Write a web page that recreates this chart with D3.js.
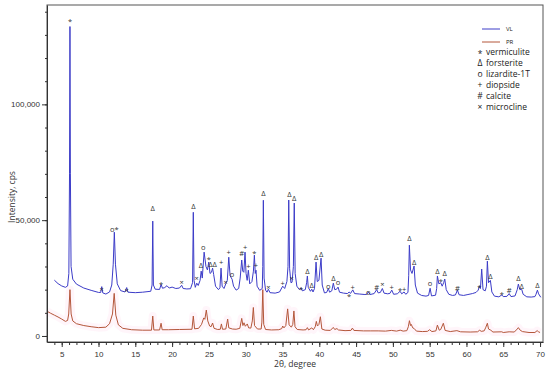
<!DOCTYPE html>
<html>
<head>
<meta charset="utf-8">
<script src="https://cdn.jsdelivr.net/npm/d3@7"></script>
<style>
    body { margin: 0; background: #fff; }
    svg { display: block; font-family: "Open Sans", "DejaVu Sans", sans-serif; }
    .axis path, .axis line { stroke: #333; }
    .axis text { fill: #333; font-size: 8px; }
    .peak { fill: #333; font-size: 7.5px; }
    .legend text { fill: #222; font-size: 8.5px; }
</style>
</head>
<body>
<div class="xrd"></div>
<script>
//SERIES (2theta, counts)
var vlScan = [
    [4.0, 24100], [4.5, 22600], [5.0, 21600], [5.5, 21000], [5.8, 21600], [5.97, 27000], [6.06, 70000],
    [6.12, 133600], [6.18, 70000], [6.27, 30000], [6.5, 24500], [7.0, 22400], [8.0, 20700], [9.0, 19700],
    [10.0, 18800], [10.3, 18800], [10.44, 21300], [10.58, 18600], [11.0, 18100], [11.5, 19000], [11.8, 22000],
    [12.0, 31000], [12.15, 44800], [12.3, 31000], [12.55, 22500], [13.0, 19600], [13.6, 19000], [13.83, 20900],
    [14.0, 18900], [15.0, 18700], [16.0, 18900], [17.1, 19300], [17.28, 22000], [17.37, 49600], [17.46, 22000],
    [17.7, 20200], [18.3, 20100], [18.5, 22200], [18.7, 20600], [19.0, 20900], [19.3, 21700], [19.6, 20700],
    [20.0, 21100], [20.5, 20500], [21.0, 20700], [21.3, 21900], [21.5, 20500], [22.0, 20300], [22.5, 20400],
    [22.78, 23000], [22.88, 53400], [22.98, 24000], [23.15, 21000], [23.35, 22800], [23.55, 21800], [23.8, 24000],
    [23.95, 28000], [24.1, 25000], [24.35, 36200], [24.6, 30000], [24.8, 28500], [24.98, 31900], [25.15, 27000],
    [25.35, 27500], [25.5, 29300], [25.65, 26500], [25.9, 21500], [26.3, 20000], [26.5, 20800], [26.65, 29300],
    [26.8, 21500], [27.05, 20500], [27.29, 22500], [27.5, 24000], [27.7, 34000], [27.88, 26000], [28.15, 24500],
    [28.35, 21500], [28.7, 19800], [29.05, 20500], [29.25, 25000], [29.46, 32800], [29.6, 28000], [29.75, 27500],
    [29.91, 36200], [30.05, 27000], [30.2, 24000], [30.36, 28400], [30.55, 22500], [30.85, 23500], [31.05, 28000],
    [31.18, 34900], [31.3, 27000], [31.4, 28400], [31.55, 21500], [31.9, 19700], [32.25, 20500], [32.32, 30000],
    [32.4, 58600], [32.5, 25000], [32.7, 19800], [32.9, 18900], [33.08, 20200], [33.3, 18700], [34.0, 18500],
    [34.6, 19000], [35.03, 21500], [35.3, 20500], [35.6, 23500], [35.75, 30000], [35.85, 58700], [35.97, 29000],
    [36.15, 23000], [36.3, 23200], [36.48, 30000], [36.6, 57400], [36.72, 27000], [36.95, 21500], [37.3, 20000],
    [37.52, 20800], [37.7, 19500], [38.1, 20000], [38.28, 23000], [38.38, 25900], [38.5, 21000], [38.8, 19300],
    [38.98, 20200], [39.15, 19000], [39.35, 20500], [39.56, 31900], [39.72, 23500], [39.95, 24000], [40.24, 33600],
    [40.4, 22000], [40.7, 18600], [41.0, 18800], [41.23, 20500], [41.4, 18900], [41.7, 19500], [41.91, 22800],
    [42.1, 20000], [42.35, 20200], [42.55, 21100], [42.75, 18900], [43.3, 18500], [43.85, 18300], [44.05, 19000],
    [44.25, 18400], [44.55, 19900], [44.8, 18300], [45.5, 18100], [46.2, 17900], [46.45, 18000], [46.67, 19000],
    [46.9, 17900], [47.45, 18300], [47.8, 20000], [48.0, 18600], [48.3, 18800], [48.57, 20500], [48.8, 18500],
    [49.3, 18200], [49.6, 18400], [49.85, 19800], [50.1, 18000], [50.6, 18200], [50.98, 19300], [51.2, 18200],
    [51.52, 19000], [51.75, 18000], [52.05, 18800], [52.15, 26000], [52.24, 39200], [52.4, 28500], [52.6, 27000],
    [52.88, 30200], [53.05, 22000], [53.35, 18500], [53.9, 17500], [54.5, 17200], [54.85, 17500], [55.06, 20600],
    [55.25, 17300], [55.8, 17600], [55.95, 20500], [56.05, 25900], [56.25, 22500], [56.5, 23000], [56.7, 21500],
    [56.9, 23000], [57.05, 24600], [57.25, 20000], [57.6, 18000], [58.1, 17500], [58.5, 17700], [58.77, 19800],
    [59.0, 17800], [59.6, 17500], [60.2, 17900], [60.8, 18300], [61.3, 18800], [61.6, 19800], [61.75, 21500],
    [61.9, 20500], [62.07, 28900], [62.25, 20000], [62.55, 19500], [62.72, 21500], [62.84, 32300], [63.0, 23000],
    [63.25, 24000], [63.45, 19000], [63.8, 17200], [64.4, 16900], [64.8, 17700], [65.0, 17000], [65.5, 17100],
    [65.8, 18300], [66.05, 17000], [66.6, 17300], [66.9, 20000], [67.05, 22400], [67.25, 20000], [67.5, 20200],
    [67.7, 18000], [68.2, 16900], [68.8, 16800], [69.3, 17000], [69.45, 18000], [69.64, 19800], [69.8, 18200],
    [70.1, 16700]
];

var prScan = [
    [3.0, 10700], [3.5, 9800], [4.0, 9000], [4.5, 8200], [5.0, 7300], [5.5, 6300], [5.8, 6700], [5.95, 9500],
    [6.12, 20000], [6.28, 9500], [6.5, 6500], [7.0, 5300], [8.0, 4500], [9.0, 4000], [10.0, 3600], [11.0, 3800],
    [11.5, 5300], [11.9, 9500], [12.13, 18400], [12.35, 9000], [12.7, 4800], [13.3, 3300], [14.5, 2700],
    [16.0, 2500], [17.2, 2500], [17.37, 8600], [17.52, 2600], [18.3, 2600], [18.5, 5500], [18.65, 2700],
    [19.5, 2700], [21.0, 2800], [22.7, 2900], [22.88, 8600], [23.05, 3100], [23.6, 3300], [24.0, 5000],
    [24.3, 7800], [24.45, 7200], [24.65, 11200], [24.85, 6500], [25.1, 4300], [25.3, 4000], [25.5, 5600],
    [25.7, 3300], [26.2, 2800], [26.55, 2900], [26.7, 5200], [26.85, 2900], [27.3, 3000], [27.55, 7300],
    [27.7, 3500], [28.2, 3000], [28.7, 2900], [29.2, 3300], [29.46, 7600], [29.62, 4500], [29.77, 5700],
    [29.95, 4200], [30.22, 5200], [30.4, 3500], [30.7, 3400], [30.9, 6500], [31.04, 12300], [31.2, 4500],
    [31.6, 3000], [32.1, 3000], [32.2, 6000], [32.32, 20000], [32.45, 5000], [32.7, 2800], [33.5, 2600],
    [34.5, 2700], [34.9, 3200], [35.03, 4300], [35.2, 3500], [35.45, 4500], [35.7, 11700], [35.9, 4800],
    [36.2, 3800], [36.4, 5000], [36.55, 10800], [36.7, 4000], [37.0, 2800], [37.8, 2600], [38.2, 2700],
    [38.38, 3600], [38.55, 2600], [38.98, 3500], [39.2, 2700], [39.45, 4000], [39.6, 6300], [39.75, 4300],
    [39.95, 5000], [40.15, 8300], [40.35, 3000], [40.8, 2500], [41.5, 2400], [41.9, 3700], [42.1, 2800],
    [42.4, 3200], [42.6, 2600], [43.5, 2300], [44.3, 2400], [44.5, 3400], [44.7, 2400], [46.0, 2200],
    [47.0, 2200], [48.0, 2200], [49.0, 2100], [49.8, 2400], [50.5, 2100], [51.0, 2500], [51.4, 2100],
    [51.9, 2300], [52.1, 4000], [52.25, 6600], [52.4, 4500], [52.5, 5000], [52.7, 3500], [52.9, 3200],
    [53.2, 2100], [54.0, 1900], [54.7, 2000], [55.0, 2700], [55.3, 1900], [55.85, 2200], [56.05, 4700],
    [56.3, 2500], [56.5, 2800], [56.86, 5500], [57.1, 2400], [57.8, 1900], [58.7, 2300], [59.2, 1800],
    [60.5, 1700], [61.5, 1800], [61.8, 2500], [62.0, 2000], [62.4, 2200], [62.6, 3500], [62.84, 5500],
    [63.0, 3000], [63.3, 2500], [63.6, 1700], [64.8, 1800], [65.0, 1500], [65.8, 1800], [66.5, 1700],
    [66.9, 3000], [67.05, 3600], [67.3, 2500], [67.6, 1900], [68.5, 1500], [69.3, 1500], [69.6, 2300],
    [69.8, 1800], [70.0, 1500]
];

//PEAK MARKERS (2theta, counts at the marker, phase symbol)
var markTheta = [6.12, 12.15, 10.44, 13.83, 17.37, 18.5, 21.3, 22.88, 23.35, 23.93, 24.24, 24.98, 25.5, 26.65,
    27.29, 27.7, 28.15, 29.46, 29.91, 30.36, 31.18, 31.4, 32.4, 33.08, 35.03, 35.93, 36.26, 36.6, 37.52, 38.38,
    38.98, 39.56, 40.24, 41.23, 41.91, 42.55, 44.05, 44.55, 46.67, 47.8, 48.57, 49.85, 50.98, 51.52, 52.24,
    52.88, 55.06, 56.05, 56.5, 57.05, 58.77, 61.75, 62.84, 63.25, 64.8, 65.8, 67.05, 67.5, 69.64];
var markCounts = [136800, 46200, 20300, 19900, 55200, 23300, 23300, 56100, 25000, 30600, 38400, 33700, 31100,
    31900, 23300, 36300, 26800, 35800, 38400, 30200, 36300, 30600, 61700, 21100, 22900, 61300, 25000, 59600,
    21100, 28100, 22000, 34100, 35400, 21600, 25000, 23300, 18100, 21100, 19000, 21100, 22400, 21100, 20300,
    20300, 42300, 31900, 22900, 28100, 24600, 27200, 20700, 22000, 34100, 25900, 18600, 19900, 25000, 21600, 22000];
var markSymbol = ["*", "o*", "×", "×", "Δ", "*", "×", "Δ", "×", "Δ", "o", "*", "ΔΔ", "+", "×", "+", "o", "#",
    "+", "+", "*", "+", "Δ", "×", "+", "Δ", "×", "Δ", "*", "Δ", "Δ", "Δ", "Δ", "o", "Δ", "o", "*", "+", "o",
    "#", "×", "+", "*", "+", "Δ", "Δ", "o", "Δ", "*", "Δ", "#", "*", "Δ", "Δ", "*", "#", "Δ", "Δ", "Δ"];

//LEGEND
var seriesNames = ["VL", "PR"];
var seriesColors = ["#3c3cc8", "#b4563a"];
var phaseSymbols = ["*", "Δ", "o", "+", "#", "×"];
var phaseNames = ["vermiculite", "forsterite", "lizardite-1T", "diopside", "calcite", "microcline"];

//AXIS TICKS
var xMajor = [5, 10, 15, 20, 25, 30, 35, 40, 45, 50, 55, 60, 65, 70];
var yMajor = [0, 50000, 100000];

(function () {
    var margin = { top: 5, right: 7, bottom: 32, left: 47 },
        width = 550 - margin.left - margin.right,
        height = 374 - margin.top - margin.bottom;

    var x = d3.scaleLinear().domain([3.0, 70.4]).range([0, width]);
    var y = d3.scaleLinear().domain([-2600, 142900]).range([height, 0]);

    var svg = d3.select(".xrd").append("svg")
        .attr("width", 550)
        .attr("height", 374)
        .append("g")
        .attr("transform", "translate(" + margin.left + "," + margin.top + ")");

    var line = d3.line()
        .x(function (d) { return x(d[0]); })
        .y(function (d) { return y(d[1]); });

    //FRAME
    svg.append("rect")
        .attr("width", width)
        .attr("height", height)
        .attr("fill", "none")
        .attr("stroke", "#555")
        .attr("stroke-width", 1);

    //PINK HALO UNDER PR
    svg.append("path")
        .datum(prScan)
        .attr("d", line)
        .attr("fill", "none")
        .attr("stroke", "#ff8fc8")
        .attr("stroke-opacity", 0.09)
        .attr("stroke-width", 8)
        .attr("stroke-linejoin", "round");

    //PR LINE
    svg.append("path")
        .datum(prScan)
        .attr("d", line)
        .attr("fill", "none")
        .attr("stroke", seriesColors[1])
        .attr("stroke-width", 1)
        .attr("stroke-linejoin", "round");

    //VL LINE
    svg.append("path")
        .datum(vlScan)
        .attr("d", line)
        .attr("fill", "none")
        .attr("stroke", seriesColors[0])
        .attr("stroke-width", 1)
        .attr("stroke-linejoin", "round");

    //PEAK LABELS
    svg.selectAll(".peak")
        .data(markTheta)
        .enter().append("text")
        .attr("class", "peak")
        .attr("x", function (d) { return x(d); })
        .attr("y", function (d, i) { return y(markCounts[i]); })
        .attr("dy", function (d, i) { return markSymbol[i] === "*" ? "0.6em" : "0.35em"; })
        .attr("text-anchor", "middle")
        .text(function (d, i) { return markSymbol[i]; });

    //X AXIS
    svg.append("g")
        .attr("class", "axis")
        .attr("transform", "translate(0," + height + ")")
        .call(d3.axisBottom(x).tickValues(d3.range(4, 71)).tickSize(3).tickFormat(""))
        .call(function (g) { g.select(".domain").remove(); });
    svg.append("g")
        .attr("class", "axis")
        .attr("transform", "translate(0," + height + ")")
        .call(d3.axisBottom(x).tickValues(xMajor).tickSize(5).tickPadding(4).tickSizeOuter(0));

    //Y AXIS
    svg.append("g")
        .attr("class", "axis")
        .call(d3.axisLeft(y).tickValues(d3.range(0, 140001, 10000)).tickSize(2).tickFormat(""))
        .call(function (g) { g.select(".domain").remove(); });
    svg.append("g")
        .attr("class", "axis")
        .call(d3.axisLeft(y).tickValues(yMajor).tickSize(5).tickPadding(2).tickSizeOuter(0)
            .tickFormat(d3.format(",")));

    //AXIS TITLES
    svg.append("text")
        .attr("x", x(36.7))
        .attr("y", height + 25)
        .attr("text-anchor", "middle")
        .attr("fill", "#333")
        .style("font-size", "8.5px")
        .text("2θ, degree");
    svg.append("text")
        .attr("transform", "translate(" + (-32) + "," + y(60000) + ") rotate(-90)")
        .attr("text-anchor", "middle")
        .attr("fill", "#333")
        .style("font-size", "8.5px")
        .text("Intensity, cps");

    //LEGEND
    var legend = svg.append("g").attr("class", "legend");
    seriesNames.forEach(function (name, i) {
        var ly = 24 + i * 13;
        legend.append("line")
            .attr("x1", 435).attr("x2", 453)
            .attr("y1", ly).attr("y2", ly)
            .attr("stroke", seriesColors[i])
            .attr("stroke-width", 1);
        legend.append("text")
            .attr("x", 459).attr("y", ly)
            .attr("dy", "0.35em")
            .style("font-size", "6px")
            .text(name);
    });
    phaseNames.forEach(function (name, i) {
        var ly = 47.5 + i * 11;
        legend.append("text")
            .attr("x", 433).attr("y", ly)
            .attr("dy", phaseSymbols[i] === "*" ? "0.55em" : "0.35em")
            .attr("text-anchor", "middle")
            .text(phaseSymbols[i]);
        legend.append("text")
            .attr("x", 439).attr("y", ly)
            .attr("dy", "0.35em")
            .text(name);
    });
})();
</script>
</body>
</html>
